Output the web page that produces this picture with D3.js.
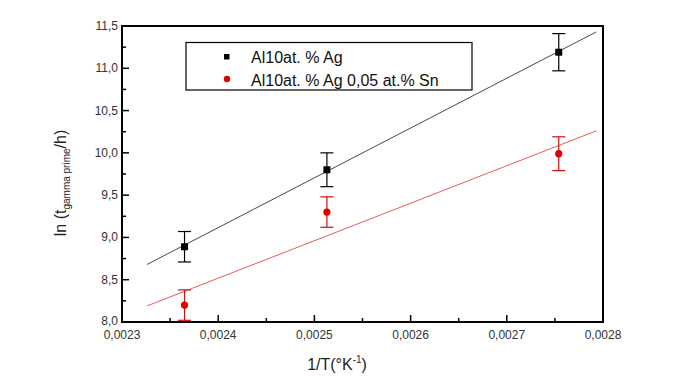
<!DOCTYPE html>
<html>
<head>
<meta charset="utf-8">
<script src="https://cdn.jsdelivr.net/npm/d3@7"></script>
<style>
  html, body { margin: 0; padding: 0; background: #fff; }
  svg { display: block; font-family: Arial, "Liberation Sans", sans-serif; }
</style>
</head>
<body>
<svg id="chart" width="681" height="389"></svg>
<script>
// ── data ──────────────────────────────────────────────
const invT      = [0.002365, 0.002513, 0.002754];
const agY       = [8.89, 9.80, 11.19];
const agErr     = [0.18, 0.20, 0.22];
const snY       = [8.20, 9.30, 9.99];
const snErr     = [0.18, 0.18, 0.20];
const fitX      = [0.002326, 0.002793];
const agFitY    = [8.68, 11.43];
const snFitY    = [8.19, 10.26];
const xTicks    = [0.0023, 0.0024, 0.0025, 0.0026, 0.0027, 0.0028];
const yTicks    = [8.0, 8.5, 9.0, 9.5, 10.0, 10.5, 11.0, 11.5];
const legendLabels = ['Al10at. % Ag', 'Al10at. % Ag 0,05 at.% Sn'];

// ── layout ────────────────────────────────────────────
const M = { left: 122, right: 603, top: 26, bottom: 322 };
const svg = d3.select('#chart');

const loc = d3.formatLocale({ decimal: ',', thousands: '.', grouping: [3], currency: ['', ''] });
const fx = loc.format('.4f');
const fy = loc.format('.1f');

const x = d3.scaleLinear().domain([0.0023, 0.0028]).range([M.left, M.right]);
const y = d3.scaleLinear().domain([8, 11.5]).range([M.bottom, M.top]);

// minor ticks (inward)
const xMinor = d3.range(0.00235, 0.0028, 0.0001);
const yMinor = d3.range(8.25, 11.5, 0.5);

const tickG = svg.append('g').attr('stroke', '#000').attr('stroke-width', 1.5);
xTicks.slice(1, -1).forEach(v => {
  tickG.append('line').attr('x1', x(v)).attr('x2', x(v)).attr('y1', M.bottom).attr('y2', M.bottom - 7);
});
xMinor.forEach(v => {
  tickG.append('line').attr('x1', x(v)).attr('x2', x(v)).attr('y1', M.bottom).attr('y2', M.bottom - 4);
});
yTicks.slice(1, -1).forEach(v => {
  tickG.append('line').attr('x1', M.left).attr('x2', M.left + 7).attr('y1', y(v)).attr('y2', y(v));
});
yMinor.forEach(v => {
  tickG.append('line').attr('x1', M.left).attr('x2', M.left + 4).attr('y1', y(v)).attr('y2', y(v));
});

// tick labels
svg.append('g').selectAll('text').data(xTicks).join('text')
  .attr('x', d => x(d)).attr('y', M.bottom + 17)
  .attr('text-anchor', 'middle')
  .attr('font-size', 12).attr('fill', '#333')
  .text(d => fx(d));

svg.append('g').selectAll('text').data(yTicks).join('text')
  .attr('x', M.left - 4).attr('y', d => y(d) + (d === 8 ? 2.5 : 4))
  .attr('text-anchor', 'end')
  .attr('font-size', 12).attr('fill', '#333')
  .text(d => fy(d));

// axis titles
const xt = svg.append('text')
  .attr('x', 337).attr('y', 370)
  .attr('text-anchor', 'middle')
  .attr('font-size', 16).attr('fill', '#222');
xt.append('tspan').text('1/T(°K');
xt.append('tspan').attr('dy', -7).attr('font-size', 10).text('-1');
xt.append('tspan').attr('dy', 7).text(')');

const yt = svg.append('text')
  .attr('transform', 'translate(66,183) rotate(-90)')
  .attr('text-anchor', 'middle')
  .attr('font-size', 16).attr('fill', '#222');
yt.append('tspan').text('ln (t');
yt.append('tspan').attr('dy', 4).attr('font-size', 10).text('gamma prime');
yt.append('tspan').attr('dy', -4).text('/h)');

// fit lines
const line = d3.line().x(d => x(d[0])).y(d => y(d[1]));
svg.append('path').datum(d3.zip(fitX, agFitY)).attr('d', line)
  .attr('fill', 'none').attr('stroke', '#333').attr('stroke-width', 0.9);
svg.append('path').datum(d3.zip(fitX, snFitY)).attr('d', line)
  .attr('fill', 'none').attr('stroke', '#e34a4a').attr('stroke-width', 0.9);

// error bars
function errorBars(vals, errs, color) {
  const g = svg.append('g').attr('stroke', color).attr('stroke-width', 1.2);
  invT.forEach((t, i) => {
    const cx = x(t), hi = y(vals[i] + errs[i]), lo = y(vals[i] - errs[i]);
    g.append('line').attr('x1', cx).attr('x2', cx).attr('y1', hi).attr('y2', lo);
    g.append('line').attr('x1', cx - 6.5).attr('x2', cx + 6.5).attr('y1', hi).attr('y2', hi);
    g.append('line').attr('x1', cx - 6.5).attr('x2', cx + 6.5).attr('y1', lo).attr('y2', lo);
  });
}
errorBars(agY, agErr, '#000');
errorBars(snY, snErr, '#d01010');

// markers
svg.append('g').selectAll('rect').data(d3.zip(invT, agY)).join('rect')
  .attr('x', d => x(d[0]) - 3.5).attr('y', d => y(d[1]) - 3.5)
  .attr('width', 7).attr('height', 7).attr('fill', '#000');
svg.append('g').selectAll('circle').data(d3.zip(invT, snY)).join('circle')
  .attr('cx', d => x(d[0])).attr('cy', d => y(d[1]))
  .attr('r', 3.6).attr('fill', '#e00000');

// frame
svg.append('rect')
  .attr('x', M.left).attr('y', M.top)
  .attr('width', M.right - M.left).attr('height', M.bottom - M.top)
  .attr('fill', 'none').attr('stroke', '#000').attr('stroke-width', 2);

// legend
const lg = svg.append('g');
lg.append('rect').attr('x', 186).attr('y', 42.5).attr('width', 286).attr('height', 47.5)
  .attr('fill', '#fff').attr('stroke', '#000').attr('stroke-width', 1.2);
lg.append('rect').attr('x', 224).attr('y', 54).attr('width', 5.5).attr('height', 5.5).attr('fill', '#000');
lg.append('circle').attr('cx', 227).attr('cy', 79).attr('r', 3.2).attr('fill', '#e00000');
lg.selectAll('text.lab').data(legendLabels).join('text')
  .attr('class', 'lab')
  .attr('x', 251).attr('y', (d, i) => 62.5 + i * 23)
  .attr('font-size', 16).attr('fill', '#111')
  .text(d => d);
</script>
</body>
</html>
